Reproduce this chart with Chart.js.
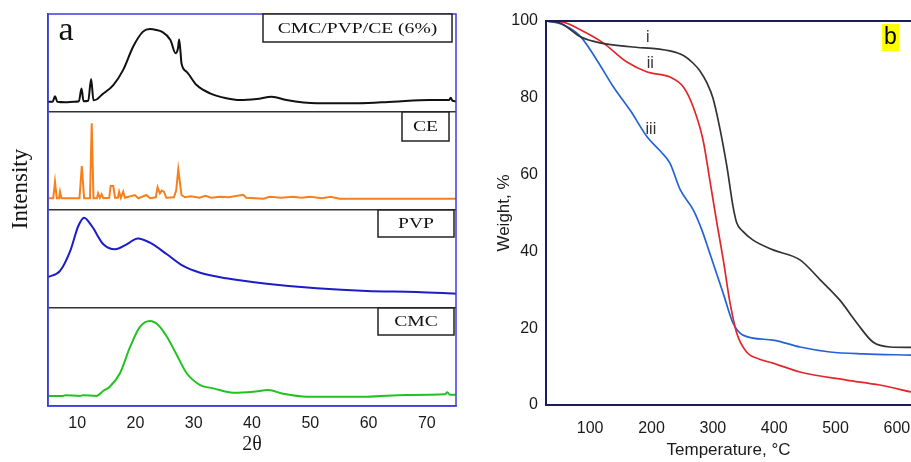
<!DOCTYPE html>
<html>
<head>
<meta charset="utf-8">
<script src="https://cdn.jsdelivr.net/npm/chart.js@4.4.0/dist/chart.umd.min.js"></script>
<style>
    html, body { margin: 0; padding: 0; background: #fff; }
    #wrap { position: relative; width: 911px; height: 462px; overflow: hidden; }
    #xrdChart { position: absolute; left: 0; top: 0; }
    #tgaChart { position: absolute; left: 470px; top: 0; }
</style>
</head>
<body>
<div id="wrap">
    <canvas id="xrdChart" width="470" height="462"></canvas>
    <canvas id="tgaChart" width="441" height="462"></canvas>
</div>
<script>
// Panel a - XRD patterns, intensity given per band (0 = band floor, 100 = band top)
const blend2Theta = [5, 5.8, 6.2, 6.6, 8, 9.5, 10.3, 10.75, 11.1, 11.9, 12.4, 12.8, 13.4, 14.2, 16.2, 17.9, 19.6, 21.3, 22.5, 23.6, 24.5, 26, 26.9, 27.3, 27.5, 27.75, 27.9, 28.8, 30.5, 32.8, 35.6, 37.9, 40.8, 43.4, 45.9, 51.1, 58.2, 64.2, 70.5, 73.8, 74.1, 74.4, 75];
const blendIntensity = [10.5, 10.5, 16, 10.5, 10, 10.5, 11, 24, 11, 11.5, 33.7, 12, 13, 17.3, 27.5, 43, 66.6, 82, 84.7, 83.7, 82, 73.5, 60, 65, 74, 60, 49.7, 41, 27.5, 19, 14, 12.2, 13.3, 15.6, 12.2, 8.9, 8.9, 10.5, 12.2, 12.2, 14.5, 11.5, 11];

const ce2Theta = [5, 5.9, 6.2, 6.5, 6.9, 7.06, 7.3, 10.4, 10.8, 11.2, 12.2, 12.5, 12.8, 13.4, 13.6, 13.9, 14.2, 14.5, 15.5, 15.75, 16.2, 16.5, 17, 17.2, 17.5, 17.9, 18.2, 19.9, 20.5, 21.9, 22.5, 23.5, 23.8, 24.2, 24.5, 24.9, 25.3, 26.6, 27, 27.35, 27.7, 27.9, 28.5, 29.5, 31, 32, 33, 34.5, 36, 38.5, 39, 42, 43, 45, 47, 48.5, 50, 52, 53.5, 55, 75];
const ceIntensity = [11.9, 12, 28.9, 12, 12, 18.7, 12, 12, 44.9, 12, 12, 88.5, 12, 12, 17, 12.5, 16, 12, 12.5, 24.5, 24.5, 12.5, 12.5, 18.7, 12.5, 18.7, 12.5, 15.3, 12, 15.3, 12, 13, 23.2, 17, 19.8, 18.7, 12.5, 13, 20, 41.5, 25, 15.3, 13, 14, 12.5, 14.5, 12.5, 13.5, 13, 15.5, 12.5, 11.5, 13.5, 12.5, 13.5, 12.5, 13.5, 12, 13.5, 11.5, 11.5];

const pvp2Theta = [5, 7.06, 8.8, 10.2, 11.2, 12.5, 14.5, 16.5, 18.5, 20.4, 22.5, 25.4, 28.2, 31.1, 35.6, 42.5, 51.1, 59.7, 68.2, 75];
const pvpIntensity = [31.6, 37.8, 58, 83.7, 92.2, 83.7, 65, 59.9, 65, 71, 66.6, 54.8, 42.9, 36, 30.3, 24.8, 20.1, 17.3, 16.3, 14.6];

const cmc2Theta = [5, 7.5, 8, 10.5, 11, 13.3, 14.5, 15.6, 17.35, 19.1, 20.8, 22.5, 23.9, 25.4, 27.1, 28.8, 31.1, 33.4, 36.8, 40.2, 42.8, 45.4, 49.4, 59.7, 66.5, 73.1, 73.5, 74, 75];
const cmcIntensity = [10.2, 10.2, 11, 10.2, 11, 10.2, 15.6, 19.7, 33.4, 60.5, 80.9, 86.7, 82.7, 70.7, 52, 33.4, 21.4, 18, 13.6, 14.6, 16.3, 12.4, 9.5, 9.5, 11.2, 11.9, 14, 11.5, 11.5];

const xrdLabels = ['CMC/PVP/CE (6%)', 'CE', 'PVP', 'CMC'];
const xrdTicks = [10, 20, 30, 40, 50, 60, 70];

// Panel b - TGA weight loss curves
const tempI = [28, 51, 84, 116, 165, 230, 252, 268, 279, 290, 300, 312, 323, 333, 339, 349, 365, 398, 442, 475, 507, 535, 561, 589, 623];
const weightI = [100, 99.5, 95.9, 94.3, 93.3, 92.2, 91, 89, 87, 84, 80, 71.6, 62, 51.6, 47.4, 45.2, 43, 40.4, 37.8, 32.6, 27.3, 21.3, 16.4, 15.1, 15];

const tempII = [28, 56, 84, 121, 160, 193, 230, 252, 268, 284, 295, 307, 317, 328, 339, 355, 375, 398, 442, 518, 572, 623];
const weightII = [100, 99.7, 97.7, 94.3, 89.3, 86.7, 85.4, 82.8, 77.6, 69, 58.6, 47, 37.8, 26.6, 18.7, 13.8, 12, 10.9, 8.6, 6.5, 5.2, 3.4];

const tempIII = [28, 56, 84, 111, 138, 165, 193, 215, 230, 247, 268, 282, 295, 317, 333, 349, 398, 442, 491, 545, 623];
const weightIII = [100, 99, 96, 89.8, 82.8, 76.8, 69.8, 66, 63, 56, 50.8, 45.6, 39.5, 29, 21.3, 18.2, 16.9, 15.1, 13.8, 13.3, 13];

const curveTags = ['i', 'ii', 'iii'];
const tagTemp = [194, 198, 199];
const tagWeight = [95.8, 88.8, 71.6];

const tempTicks = [100, 200, 300, 400, 500, 600];
const weightTicks = [0, 20, 40, 60, 80, 100];

const sans = "'Liberation Sans', Arial, sans-serif";
const serif = "'Liberation Serif', 'Times New Roman', serif";
const frameBlue = '#3c3ce0';
const axisNavy = '#1c1c5c';

function toPoints(xs, ys, offset) {
    return xs.map((x, i) => ({ x: x, y: ys[i] + offset }));
}

function fixedTicks(values) {
    return function(scale) {
        scale.ticks = values.map(v => ({ value: v }));
    };
}

// keep the plot area flush with the canvas edges regardless of tick label overhang
function fixedBox(size) {
    return function(scale) {
        if (scale.isHorizontal()) scale.height = size;
        else scale.width = size;
        scale.paddingLeft = 0;
        scale.paddingRight = 0;
        scale.paddingTop = 0;
        scale.paddingBottom = 0;
    };
}

// bands stacked top to bottom: blend, CE, PVP, CMC
const xrdSeries = [
    { xs: blend2Theta, ys: blendIntensity, color: '#111111', tension: 0.3 },
    { xs: ce2Theta, ys: ceIntensity, color: '#f77f1c', tension: 0 },
    { xs: pvp2Theta, ys: pvpIntensity, color: '#1c1cc8', tension: 0.4 },
    { xs: cmc2Theta, ys: cmcIntensity, color: '#22c222', tension: 0.4 }
];

const xrdDecor = {
    id: 'xrdDecor',
    afterDraw(chart) {
        const { ctx, chartArea: a, scales: { y } } = chart;
        ctx.save();
        ctx.strokeStyle = frameBlue;
        ctx.lineWidth = 1.5;
        ctx.strokeRect(a.left, a.top, a.right - a.left, a.bottom - a.top);

        // boxed sample names, one per band
        const boxes = [
            { right: a.right - 4, w: 189, h: 28 },
            { right: a.right - 7, w: 47, h: 29 },
            { right: a.right - 2, w: 76, h: 27 },
            { right: a.right - 2, w: 76, h: 27 }
        ];
        ctx.font = '14px ' + serif;
        ctx.textAlign = 'center';
        ctx.textBaseline = 'middle';
        boxes.forEach((b, i) => {
            const top = y.getPixelForValue(400 - i * 100);
            ctx.fillStyle = '#fff';
            ctx.fillRect(b.right - b.w, top, b.w, b.h);
            ctx.strokeStyle = '#222';
            ctx.lineWidth = 1.5;
            ctx.strokeRect(b.right - b.w, top, b.w, b.h);
            ctx.fillStyle = '#111';
            ctx.save();
            ctx.translate(b.right - b.w / 2, top + b.h / 2 + 1);
            ctx.scale(1.4, 1);
            ctx.fillText(xrdLabels[i], 0, 0);
            ctx.restore();
        });

        // panel letter and y title
        ctx.fillStyle = '#111';
        ctx.font = '34px ' + serif;
        ctx.textBaseline = 'alphabetic';
        ctx.fillText('a', 66, 40);
        ctx.save();
        ctx.translate(21, 189);
        ctx.rotate(-Math.PI / 2);
        ctx.font = '23px ' + serif;
        ctx.textBaseline = 'middle';
        ctx.fillText('Intensity', 0, 0);
        ctx.restore();
        ctx.restore();
    }
};

new Chart(document.getElementById('xrdChart'), {
    type: 'line',
    data: {
        datasets: xrdSeries.map((s, i) => ({
            data: toPoints(s.xs, s.ys, 300 - i * 100),
            borderColor: s.color,
            borderWidth: 2,
            tension: s.tension,
            cubicInterpolationMode: s.tension ? 'monotone' : 'default',
            pointRadius: 0
        }))
    },
    options: {
        responsive: false,
        animation: false,
        layout: { padding: { top: 14, right: 14, left: 0, bottom: 0 } },
        plugins: { legend: { display: false }, tooltip: { enabled: false } },
        scales: {
            x: {
                type: 'linear',
                min: 5,
                max: 75,
                afterBuildTicks: fixedTicks(xrdTicks),
                afterFit: fixedBox(56),
                grid: { display: false, drawTicks: false },
                border: { color: frameBlue, width: 1.5 },
                ticks: { color: '#1a1a1a', padding: 8, font: { family: sans, size: 16 } },
                title: {
                    display: true,
                    text: '2θ',
                    color: '#1a1a1a',
                    font: { family: serif, size: 20 },
                    padding: { top: 0, bottom: 5 }
                }
            },
            y: {
                min: 0,
                max: 400,
                afterBuildTicks: fixedTicks([0, 100, 200, 300, 400]),
                afterFit: fixedBox(48),
                grid: {
                    drawTicks: false,
                    lineWidth: 1.5,
                    color: c => (c.tick && c.tick.value > 0 && c.tick.value < 400) ? '#333' : 'rgba(0,0,0,0)'
                },
                border: { color: frameBlue, width: 1.5 },
                ticks: { display: false }
            }
        }
    },
    plugins: [xrdDecor]
});

const tgaDecor = {
    id: 'tgaDecor',
    afterDraw(chart) {
        const { ctx, chartArea: a, scales: { x, y } } = chart;
        ctx.save();
        ctx.strokeStyle = axisNavy;
        ctx.lineWidth = 2;
        ctx.beginPath();
        ctx.moveTo(a.left, a.top);
        ctx.lineTo(chart.width, a.top);
        ctx.stroke();

        ctx.fillStyle = '#333';
        ctx.font = '16px ' + sans;
        ctx.textAlign = 'center';
        ctx.textBaseline = 'middle';
        curveTags.forEach((t, i) => {
            ctx.fillText(t, x.getPixelForValue(tagTemp[i]), y.getPixelForValue(tagWeight[i]));
        });

        ctx.fillStyle = '#ffff00';
        ctx.fillRect(412, 24, 17, 27);
        ctx.fillStyle = '#000';
        ctx.font = '23px ' + sans;
        ctx.fillText('b', 420.5, 38);
        ctx.restore();
    }
};

new Chart(document.getElementById('tgaChart'), {
    type: 'line',
    data: {
        datasets: [
            { data: toPoints(tempI, weightI, 0), borderColor: '#333333' },
            { data: toPoints(tempII, weightII, 0), borderColor: '#e3262b' },
            { data: toPoints(tempIII, weightIII, 0), borderColor: '#2463d6' }
        ]
    },
    options: {
        responsive: false,
        animation: false,
        layout: { padding: { top: 21, right: 0, left: 0, bottom: 0 } },
        elements: {
            point: { radius: 0 },
            line: { borderWidth: 1.7, tension: 0.4, cubicInterpolationMode: 'monotone' }
        },
        plugins: { legend: { display: false }, tooltip: { enabled: false } },
        scales: {
            x: {
                type: 'linear',
                min: 28,
                max: 623,
                afterBuildTicks: fixedTicks(tempTicks),
                afterFit: fixedBox(57),
                grid: { display: false, drawTicks: false },
                border: { color: axisNavy, width: 2 },
                ticks: { color: '#1a1a1a', padding: 14, font: { family: sans, size: 16 } },
                title: {
                    display: true,
                    text: 'Temperature, °C',
                    color: '#1a1a1a',
                    font: { family: sans, size: 17 },
                    padding: { top: 0, bottom: 1 }
                }
            },
            y: {
                min: 0,
                max: 100,
                afterBuildTicks: fixedTicks(weightTicks),
                afterFit: fixedBox(76),
                grid: { display: false, drawTicks: false },
                border: { color: axisNavy, width: 2 },
                ticks: { color: '#1a1a1a', padding: 8, font: { family: sans, size: 16 } },
                title: {
                    display: true,
                    text: 'Weight, %',
                    color: '#1a1a1a',
                    font: { family: sans, size: 17 },
                    padding: { top: 24, bottom: 0 }
                }
            }
        }
    },
    plugins: [tgaDecor]
});
</script>
</body>
</html>
